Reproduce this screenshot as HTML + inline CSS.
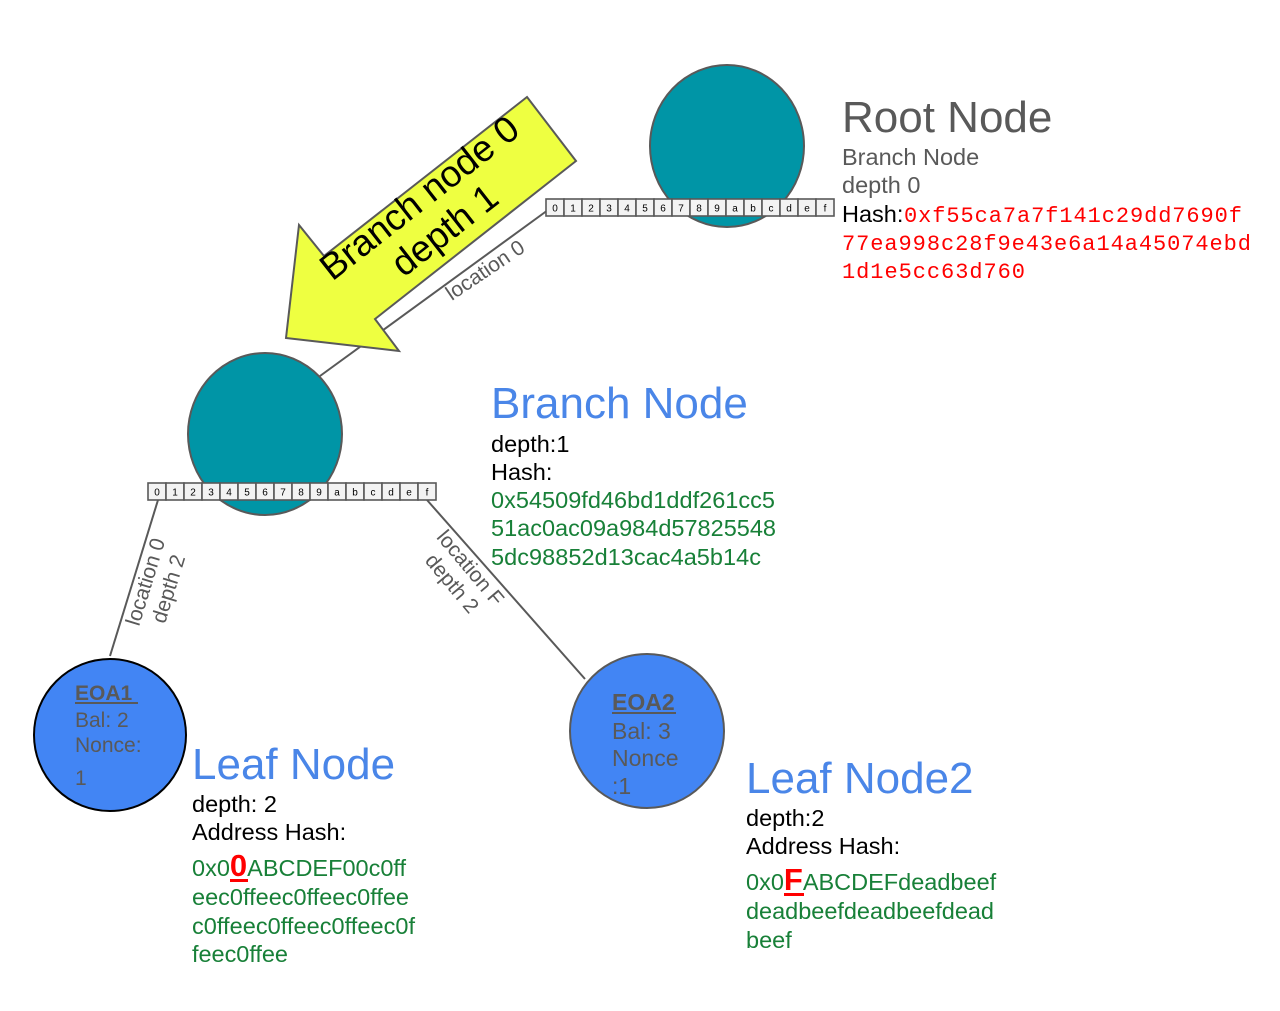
<!DOCTYPE html>
<html><head><meta charset="utf-8"><style>
html,body{margin:0;padding:0;background:#fff;}
svg{display:block;font-family:"Liberation Sans",Arial,sans-serif;}
.cell rect{fill:#f3f3f3;stroke:#595959;stroke-width:1.6}
.cell text{font-size:10px;fill:#000;text-anchor:middle}
</style></head><body>
<svg width="1280" height="1011" viewBox="0 0 1280 1011" xmlns="http://www.w3.org/2000/svg">
<line x1="548" y1="210" x2="320" y2="376" stroke="#595959" stroke-width="2"/>
<line x1="158" y1="500" x2="110" y2="656" stroke="#595959" stroke-width="2"/>
<line x1="427" y1="500" x2="585" y2="679" stroke="#595959" stroke-width="2"/>

<ellipse cx="727" cy="146" rx="77" ry="81" fill="#0095a6" stroke="#595959" stroke-width="2"/>
<ellipse cx="265" cy="434" rx="77" ry="81" fill="#0095a6" stroke="#595959" stroke-width="2"/>

<g class="cell" transform="translate(546,199)">
<rect x="0" y="0" width="18" height="17"/><text x="9" y="12.5">0</text>
<rect x="18" y="0" width="18" height="17"/><text x="27" y="12.5">1</text>
<rect x="36" y="0" width="18" height="17"/><text x="45" y="12.5">2</text>
<rect x="54" y="0" width="18" height="17"/><text x="63" y="12.5">3</text>
<rect x="72" y="0" width="18" height="17"/><text x="81" y="12.5">4</text>
<rect x="90" y="0" width="18" height="17"/><text x="99" y="12.5">5</text>
<rect x="108" y="0" width="18" height="17"/><text x="117" y="12.5">6</text>
<rect x="126" y="0" width="18" height="17"/><text x="135" y="12.5">7</text>
<rect x="144" y="0" width="18" height="17"/><text x="153" y="12.5">8</text>
<rect x="162" y="0" width="18" height="17"/><text x="171" y="12.5">9</text>
<rect x="180" y="0" width="18" height="17"/><text x="189" y="12.5">a</text>
<rect x="198" y="0" width="18" height="17"/><text x="207" y="12.5">b</text>
<rect x="216" y="0" width="18" height="17"/><text x="225" y="12.5">c</text>
<rect x="234" y="0" width="18" height="17"/><text x="243" y="12.5">d</text>
<rect x="252" y="0" width="18" height="17"/><text x="261" y="12.5">e</text>
<rect x="270" y="0" width="18" height="17"/><text x="279" y="12.5">f</text>
</g>
<g class="cell" transform="translate(148,483)">
<rect x="0" y="0" width="18" height="17"/><text x="9" y="12.5">0</text>
<rect x="18" y="0" width="18" height="17"/><text x="27" y="12.5">1</text>
<rect x="36" y="0" width="18" height="17"/><text x="45" y="12.5">2</text>
<rect x="54" y="0" width="18" height="17"/><text x="63" y="12.5">3</text>
<rect x="72" y="0" width="18" height="17"/><text x="81" y="12.5">4</text>
<rect x="90" y="0" width="18" height="17"/><text x="99" y="12.5">5</text>
<rect x="108" y="0" width="18" height="17"/><text x="117" y="12.5">6</text>
<rect x="126" y="0" width="18" height="17"/><text x="135" y="12.5">7</text>
<rect x="144" y="0" width="18" height="17"/><text x="153" y="12.5">8</text>
<rect x="162" y="0" width="18" height="17"/><text x="171" y="12.5">9</text>
<rect x="180" y="0" width="18" height="17"/><text x="189" y="12.5">a</text>
<rect x="198" y="0" width="18" height="17"/><text x="207" y="12.5">b</text>
<rect x="216" y="0" width="18" height="17"/><text x="225" y="12.5">c</text>
<rect x="234" y="0" width="18" height="17"/><text x="243" y="12.5">d</text>
<rect x="252" y="0" width="18" height="17"/><text x="261" y="12.5">e</text>
<rect x="270" y="0" width="18" height="17"/><text x="279" y="12.5">f</text>
</g>

<polygon points="527,97 576,161 375,319 399,351 286,338 299,225 324,256" fill="#eeff41" stroke="#595959" stroke-width="2"/>
<g transform="translate(432,214) rotate(-38)" font-size="37" fill="#000" text-anchor="middle">
<text x="0" y="-8">Branch node 0</text>
<text x="0" y="33">depth 1</text>
</g>

<text transform="translate(489,276) rotate(-34)" font-size="21" fill="#595959" text-anchor="middle">location 0</text>
<g transform="translate(156,585) rotate(-73)" font-size="21" fill="#595959" text-anchor="middle">
<text x="0" y="-4">location 0</text><text x="0" y="20">depth 2</text>
</g>
<g transform="translate(462,575) rotate(50)" font-size="21" fill="#595959" text-anchor="middle">
<text x="0" y="-4">location F</text><text x="0" y="20">depth 2</text>
</g>

<circle cx="110" cy="735" r="76" fill="#4285f4" stroke="#000" stroke-width="2"/>
<g fill="#595959" font-size="21">
<text x="75" y="700" font-weight="bold">EOA1</text>
<rect x="75" y="702" width="63" height="2" fill="#595959"/>
<text x="75" y="727">Bal: 2</text>
<text x="75" y="752">Nonce:</text>
<text x="75" y="785">1</text>
</g>
<circle cx="647" cy="731" r="77" fill="#4285f4" stroke="#595959" stroke-width="2"/>
<g fill="#595959" font-size="23">
<text x="612" y="710" font-weight="bold">EOA2</text>
<rect x="612" y="712" width="64" height="2" fill="#595959"/>
<text x="612" y="739">Bal: 3</text>
<text x="612" y="766">Nonce</text>
<text x="612" y="794">:1</text>
</g>

<text x="842" y="132" font-size="44" fill="#595959">Root Node</text>
<text x="842" y="165" font-size="23.5" fill="#595959">Branch Node</text>
<text x="842" y="193" font-size="23.5" fill="#595959">depth 0</text>
<text x="842" y="222" font-size="23.5" fill="#000">Hash:</text>
<g font-family="'Liberation Mono',monospace" font-size="22" fill="#ff0000">
<text x="904" y="222" textLength="338">0xf55ca7a7f141c29dd7690f</text>
<text x="842" y="250" textLength="409">77ea998c28f9e43e6a14a45074ebd</text>
<text x="842" y="278" textLength="183">1d1e5cc63d760</text>
</g>

<text x="491" y="418" font-size="44" fill="#4a86e8">Branch Node</text>
<text x="491" y="452" font-size="23.5" fill="#000">depth:1</text>
<text x="491" y="480" font-size="23.5" fill="#000">Hash:</text>
<g font-size="23.5" fill="#188038">
<text x="491" y="508" textLength="284">0x54509fd46bd1ddf261cc5</text>
<text x="491" y="536" textLength="285">51ac0ac09a984d57825548</text>
<text x="491" y="565" textLength="270">5dc98852d13cac4a5b14c</text>
</g>

<text x="192" y="779" font-size="44" fill="#4a86e8">Leaf Node</text>
<text x="192" y="812" font-size="23.5" fill="#000">depth: 2</text>
<text x="192" y="840" font-size="23.5" fill="#000">Address Hash:</text>
<g font-size="23.5" fill="#188038">
<text x="192" y="876">0x0<tspan font-size="31" font-weight="bold" fill="#ff0000">0</tspan>ABCDEF00c0ff</text>
<rect x="230" y="879" width="18" height="3" fill="#ff0000"/>
<text x="192" y="905" textLength="217">eec0ffeec0ffeec0ffee</text>
<text x="192" y="934" textLength="223">c0ffeec0ffeec0ffeec0f</text>
<text x="192" y="962" textLength="96">feec0ffee</text>
</g>

<text x="746" y="793" font-size="44" fill="#4a86e8">Leaf Node2</text>
<text x="746" y="826" font-size="23.5" fill="#000">depth:2</text>
<text x="746" y="854" font-size="23.5" fill="#000">Address Hash:</text>
<g font-size="23.5" fill="#188038">
<text x="746" y="890">0x0<tspan font-size="31" font-weight="bold" fill="#ff0000">F</tspan>ABCDEFdeadbeef</text>
<rect x="784" y="893" width="20" height="3" fill="#ff0000"/>
<text x="746" y="919" textLength="248">deadbeefdeadbeefdead</text>
<text x="746" y="948">beef</text>
</g>
</svg>
</body></html>
